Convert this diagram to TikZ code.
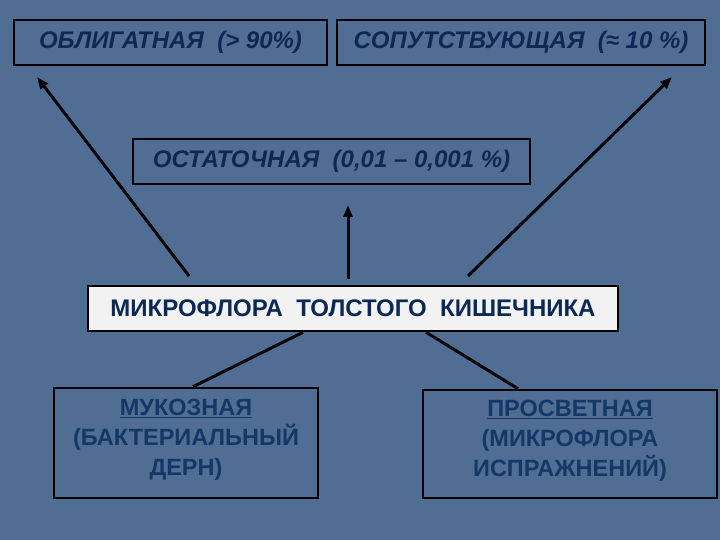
\documentclass[tikz,border=0pt]{standalone}
\usepackage{fontspec}
\setmainfont{Liberation Sans}
\usetikzlibrary{arrows.meta}
\definecolor{bgblue}{RGB}{80,110,148}
\definecolor{inkblue}{RGB}{12,40,84}
\definecolor{lowblue}{RGB}{20,56,102}
\definecolor{pale}{RGB}{242,242,242}
\begin{document}
\begin{tikzpicture}[x=1pt,y=-1pt,
    kind/.style={draw=black,line width=2.5pt,minimum height=45pt,inner sep=0pt,
      text=inkblue,font=\bfseries\itshape\fontsize{24}{28}\selectfont},
    part/.style={draw=black,line width=2.5pt,inner sep=0pt,align=center,
      text=lowblue,font=\bfseries\fontsize{23.5}{30}\selectfont},
    link/.style={line width=3pt,black},
    up/.style={link,-{Triangle[length=12pt,width=9pt]}}]
  \fill[bgblue] (0,0) rectangle (720,540);
  \node[kind,minimum width=313pt] (obl) at (170.5,42.5) {ОБЛИГАТНАЯ~~(> 90\%)};
  \node[kind,minimum width=368pt] (soput) at (521,42.5) {СОПУТСТВУЮЩАЯ~~(≈ 10 \%)};
  \node[kind,minimum width=397pt] (ostat) at (331.5,161.5) {ОСТАТОЧНАЯ~~(0,01 – 0,001 \%)};
  \node[kind,fill=pale,minimum width=530pt,font=\bfseries\fontsize{24}{28}\selectfont]
    (micro) at (353,308.5) {МИКРОФЛОРА~~ТОЛСТОГО~~КИШЕЧНИКА};
  \node[part,minimum width=264pt,minimum height=110pt] (muc) at (186,443)
    {\underline{МУКОЗНАЯ}\\(БАКТЕРИАЛЬНЫЙ\\ДЕРН)\\[-19pt]};
  \node[part,minimum width=294pt,minimum height=108pt] (pros) at (570,444)
    {\underline{ПРОСВЕТНАЯ}\\(МИКРОФЛОРА\\ИСПРАЖНЕНИЙ)\\[-19pt]};
  \coordinate (oblFrom) at (189,276);
  \coordinate (oblTo) at (37,77);
  \coordinate (ostFrom) at (348,279);
  \coordinate (ostTo) at (348,205);
  \coordinate (sopFrom) at (468,276);
  \coordinate (sopTo) at (672,77);
  \draw[up] (oblFrom) -- (oblTo);
  \draw[up] (ostFrom) -- (ostTo);
  \draw[up] (sopFrom) -- (sopTo);
  \draw[link] ([xshift=-50pt]micro.south) -- ([xshift=7pt]muc.north);
  \draw[link] ([xshift=73pt]micro.south) -- ([xshift=-52pt]pros.north);
\end{tikzpicture}
\end{document}
